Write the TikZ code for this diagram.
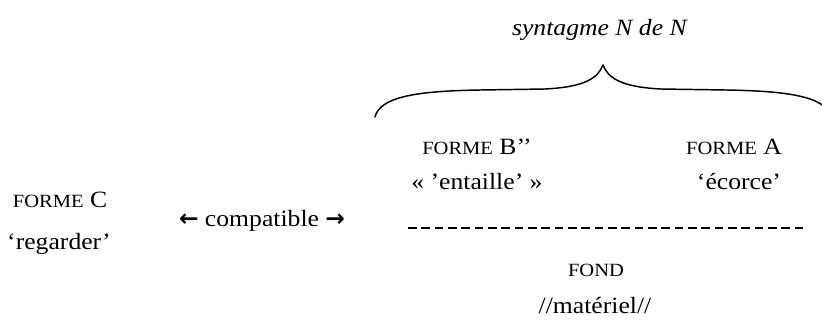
\documentclass[tikz,border=0pt]{standalone}
\usepackage{fontspec}
\setmainfont{Liberation Serif}[FakeStretch=1.1]
\newfontfamily\arrowfont{DejaVu Sans}
\usepackage{tikz}
\usetikzlibrary{positioning, calc}
\newcommand{\fsc}[1]{{\fontsize{14}{16}\selectfont #1}}
\newcommand{\arr}[1]{{\arrowfont\bfseries #1}}

\begin{document}
\begin{tikzpicture}[x=0.75pt, y=-0.75pt,
    txt/.style={font=\fontsize{17.5}{20}\selectfont, inner sep=0pt},
    brace/.style={line width=1.1pt, line cap=round}]
    \useasboundingbox (0,0) rectangle (822,322);
    \clip (0,0) rectangle (822,322);
    % titre
    \node[txt] (syn) at (600,30) {\textit{syntagme N de N}};
    % accolade
    \coordinate (bl) at (375,117);
    \coordinate (tip) at (603,65);
    \coordinate (br) at (831,117);
    \draw[brace] (bl) .. controls (380,96) and (420,91) .. (480,90)
        -- (545,89) .. controls (585,87) and (598,78) .. (tip);
    \draw[brace] (tip) .. controls (608,78) and (621,87) .. (661,89)
        -- (726,90) .. controls (786,91) and (826,96) .. (br);
    % formes
    \node[txt] (formeB) at (477,147) {\fsc{FORME} B’’};
    \node[txt] (entaille) at (477,182) {« ’entaille’ »};
    \node[txt] (formeA) at (734,147) {\fsc{FORME} A};
    \node[txt] (ecorce) at (739,181) {‘écorce’};
    \coordinate (dl) at (408,228);
    \coordinate (dr) at (803,228);
    \draw[line width=1.5pt, dash pattern=on 6.5pt off 3.5pt] (dl) -- (dr);
    \node[txt] (fond) at (596,270) {\fsc{FOND}};
    \node[txt] (materiel) at (595,305) {//matériel//};
    % forme C
    \node[txt] (formeC) at (60,200) {\fsc{FORME} C};
    \node[txt] (regarder) at (59,244) {‘regarder’};
    \node[txt] (compat) at (262,221) {\arr{←} compatible \arr{→}};
\end{tikzpicture}
\end{document}
